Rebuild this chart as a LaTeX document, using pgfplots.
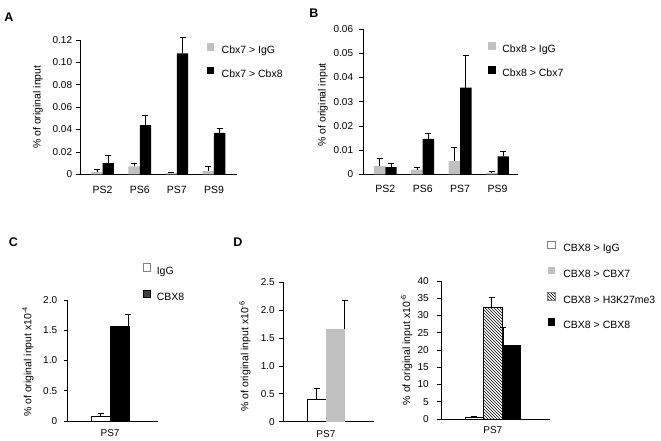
\documentclass[border=0pt]{standalone}
\usepackage{pgfplots}
\pgfplotsset{compat=1.18}
\usepackage{fontspec}
\setmainfont{Liberation Sans}
\usetikzlibrary{patterns}

\definecolor{lgray}{RGB}{192,192,192}
\definecolor{dgray}{RGB}{64,64,64}
\definecolor{mgray}{RGB}{128,128,128}

\newcommand{\sqimg}[1]{\addlegendimage{legend image code/.code={\draw[#1] (0pt,0.25pt) rectangle (7.5pt,7.75pt);}}}

\pgfplotsset{
  panel/.style={
    scale only axis, anchor=south west,
    axis lines=left, axis line style={-, line width=0.8pt, black},
    ymin=0, scaled y ticks=false,
    tick align=outside, major tick length=4pt,
    ytick style={line width=0.8pt, black},
    xtick style={draw=none},
    yticklabel style={font=\fontsize{10}{12}\selectfont, inner sep=0pt, anchor=east},
    xticklabel style={font=\fontsize{10.5}{12}\selectfont, inner sep=0pt, anchor=base},
    every axis y label/.style={font=\fontsize{10.5}{12}\selectfont, rotate=90, anchor=center},
    legend style={draw=none, fill=none, inner sep=0pt, outer sep=0pt, anchor=north west,
      font=\fontsize{10.5}{12}\selectfont,
      nodes={inner sep=0pt, text height=8pt, text depth=2.5pt}},
    legend cell align=left,
    error bars/error bar style={line width=0.8pt, black},
    error bars/error mark options={rotate=90, black, line width=0.8pt, mark size=3pt},
    /pgf/number format/assume math mode=true,
    clip=false,
  },
}

\begin{document}
\begin{tikzpicture}
\path[use as bounding box] (0pt,0pt) rectangle (661pt,441pt);

% ---------------- Panel A ----------------
\begin{axis}[panel, at={(80pt,266.7pt)}, width=157pt, height=134.3pt,
  xmin=-0.61, xmax=3.62, ymax=0.12,
  ytick={0,0.02,0.04,0.06,0.08,0.1,0.12},
  yticklabels={0,0.02,0.04,0.06,0.08,0.10,0.12},
  yticklabel style={xshift=-3.7pt},
  xtick={0,1,2,3}, xticklabels={PS2,PS6,PS7,PS9},
  xticklabel style={yshift=-15pt},
  ylabel={\% of original input},
  every axis y label/.append style={at={(axis description cs:-0.2675,0.5)}},
  legend style={at={(axis description cs:0.807,0.974)}, row sep=10.5pt,
    /tikz/every odd column/.append style={column sep=7.5pt}},
]
\sqimg{fill=lgray, draw=none}
\sqimg{fill=black, draw=none}
\addplot[ybar, bar width=0.305, bar shift=0pt, fill=lgray, draw=none, forget plot,
  error bars/.cd, y dir=plus, y explicit] coordinates {
  (-0.1525,0.002) +- (0,0.002)
  (0.8475,0.007) +- (0,0.0025)
  (1.8475,0.001) +- (0,0.001)
  (2.8475,0.003) +- (0,0.004)
};
\addplot[ybar, bar width=0.305, bar shift=0pt, fill=black, draw=none, forget plot,
  error bars/.cd, y dir=plus, y explicit] coordinates {
  (0.1525,0.010) +- (0,0.007)
  (1.1525,0.044) +- (0,0.009)
  (2.1525,0.108) +- (0,0.014)
  (3.1525,0.037) +- (0,0.004)
};
\legend{Cbx7 > IgG, Cbx7 > Cbx8}
\end{axis}

% ---------------- Panel B ----------------
\begin{axis}[panel, at={(363.3pt,266.5pt)}, width=154.4pt, height=145.5pt,
  xmin=-0.587, xmax=3.54, ymax=0.06,
  ytick={0,0.01,0.02,0.03,0.04,0.05,0.06},
  yticklabels={0,0.01,0.02,0.03,0.04,0.05,0.06},
  yticklabel style={xshift=-6pt},
  xtick={0,1,2,3}, xticklabels={PS2,PS6,PS7,PS9},
  xticklabel style={yshift=-14.5pt},
  ylabel={\% of original input},
  every axis y label/.append style={at={(axis description cs:-0.261,0.478)}},
  legend style={at={(axis description cs:0.81,0.909)}, row sep=11pt,
    /tikz/every odd column/.append style={column sep=6.5pt}},
]
\sqimg{fill=lgray, draw=none}
\sqimg{fill=black, draw=none}
\addplot[ybar, bar width=0.307, bar shift=0pt, fill=lgray, draw=none, forget plot,
  error bars/.cd, y dir=plus, y explicit] coordinates {
  (-0.1535,0.0035) +- (0,0.003)
  (0.8465,0.002) +- (0,0.0008)
  (1.8465,0.0055) +- (0,0.0055)
  (2.8465,0.0008) +- (0,0.0003)
};
\addplot[ybar, bar width=0.307, bar shift=0pt, fill=black, draw=none, forget plot,
  error bars/.cd, y dir=plus, y explicit] coordinates {
  (0.1535,0.003) +- (0,0.0015)
  (1.1535,0.0147) +- (0,0.0023)
  (2.1535,0.0358) +- (0,0.0132)
  (3.1535,0.0075) +- (0,0.002)
};
\legend{Cbx8 > IgG, Cbx8 > Cbx7}
\end{axis}

% ---------------- Panel C ----------------
\begin{axis}[panel, at={(67.7pt,20pt)}, width=90.6pt, height=121pt,
  xmin=-2.23, xmax=2.54, ymax=2,
  ytick={0,0.5,1,1.5,2}, yticklabels={0,0.5,1.0,1.5,2.0},
  yticklabel style={xshift=-6.4pt},
  xtick={0}, xticklabels={PS7},
  xticklabel style={yshift=-12pt, font=\fontsize{10}{12}\selectfont},
  ylabel={\% of original input x10\textsuperscript{-4}},
  every axis y label/.append style={at={(axis description cs:-0.438,0.49)}},
  legend style={at={(axis description cs:0.828,1.302)}, row sep=13pt,
    /tikz/every odd column/.append style={column sep=6pt}},
]
\sqimg{fill=white, draw=mgray, line width=0.6pt}
\sqimg{fill=dgray, draw=black, line width=0.6pt}
\addplot[ybar, bar width=1, bar shift=0pt, fill=white, draw=black, line width=0.8pt, forget plot,
  error bars/.cd, y dir=plus, y explicit] coordinates {
  (-0.5,0.08) +- (0,0.04)
};
\addplot[ybar, bar width=1, bar shift=0pt, fill=black, draw=black, line width=0.8pt, forget plot]
  coordinates {(0.5,1.56)};
\addplot[draw=none, mark=none, forget plot,
  error bars/.cd, y dir=plus, y explicit] coordinates {(0.97,1.56) +- (0,0.20)};
\legend{IgG, CBX8}
\end{axis}

% ---------------- Panel D (left) ----------------
\begin{axis}[panel, at={(283.3pt,19.3pt)}, width=90.7pt, height=139.4pt,
  xmin=-2.28, xmax=2.57, ymax=2.5,
  ytick={0,0.5,1,1.5,2,2.5}, yticklabels={0,0.5,1.0,1.5,2.0,2.5},
  yticklabel style={xshift=-4.3pt},
  xtick={0}, xticklabels={PS7},
  xticklabel style={yshift=-11.5pt, font=\fontsize{10}{12}\selectfont},
  ylabel={\% of original input x10\textsuperscript{-6}},
  every axis y label/.append style={at={(axis description cs:-0.422,0.47)}},
]
\addplot[ybar, bar width=1, bar shift=0pt, fill=white, draw=black, line width=0.8pt, forget plot,
  error bars/.cd, y dir=plus, y explicit] coordinates {
  (-0.5,0.40) +- (0,0.20)
};
\addplot[ybar, bar width=1, bar shift=0pt, fill=lgray, draw=none, forget plot]
  coordinates {(0.5,1.67)};
\addplot[draw=none, mark=none, forget plot,
  error bars/.cd, y dir=plus, y explicit] coordinates {(1.0,1.67) +- (0,0.51)};
\end{axis}

% ---------------- Panel D (right) ----------------
\begin{axis}[panel, at={(441.7pt,22pt)}, width=108.3pt, height=138pt,
  xmin=-2.76, xmax=3.09, ymax=40,
  ytick={0,5,10,15,20,25,30,35,40}, yticklabels={0,5,10,15,20,25,30,35,40},
  major tick length=5pt,
  yticklabel style={xshift=-7.7pt},
  xtick={0}, xticklabels={PS7},
  xticklabel style={yshift=-10pt, font=\fontsize{10}{12}\selectfont},
  ylabel={\% of original input x10\textsuperscript{-6}},
  every axis y label/.append style={at={(axis description cs:-0.323,0.5)}},
  legend style={at={(axis description cs:0.975,1.29)}, row sep=12.5pt,
    /tikz/every odd column/.append style={column sep=8pt}},
]
\sqimg{fill=white, draw=mgray, line width=0.6pt}
\sqimg{fill=lgray, draw=none}
\sqimg{pattern=north west lines, draw=mgray, line width=0.6pt}
\sqimg{fill=black, draw=none}
\addplot[ybar, bar width=1, bar shift=0pt, fill=white, draw=black, line width=0.8pt, forget plot,
  error bars/.cd, y dir=plus, y explicit] coordinates {
  (-1,0.5) +- (0,0.2)
};
\addplot[ybar, bar width=1, bar shift=0pt, pattern=north west lines, draw=black, line width=0.8pt, forget plot]
  coordinates {(0,32.3)};
\addplot[ybar, bar width=1, bar shift=0pt, fill=black, draw=black, line width=0.8pt, forget plot]
  coordinates {(1,21.2)};
\addplot[draw=none, mark=none, forget plot,
  error bars/.cd, y dir=plus, y explicit] coordinates {
  (-0.06,32.3) +- (0,2.9)
  (0.57,21.2) +- (0,5.3)
};
\legend{CBX8 > IgG, CBX8 > CBX7, CBX8 > H3K27me3, CBX8 > CBX8}
\end{axis}

% panel letters
\node[font=\fontsize{12.5}{14}\selectfont\bfseries] at (9pt,424pt) {A};
\node[font=\fontsize{12.5}{14}\selectfont\bfseries] at (314pt,428pt) {B};
\node[font=\fontsize{12.5}{14}\selectfont\bfseries] at (13.5pt,199pt) {C};
\node[font=\fontsize{12.5}{14}\selectfont\bfseries] at (238pt,199pt) {D};
\end{tikzpicture}
\end{document}
